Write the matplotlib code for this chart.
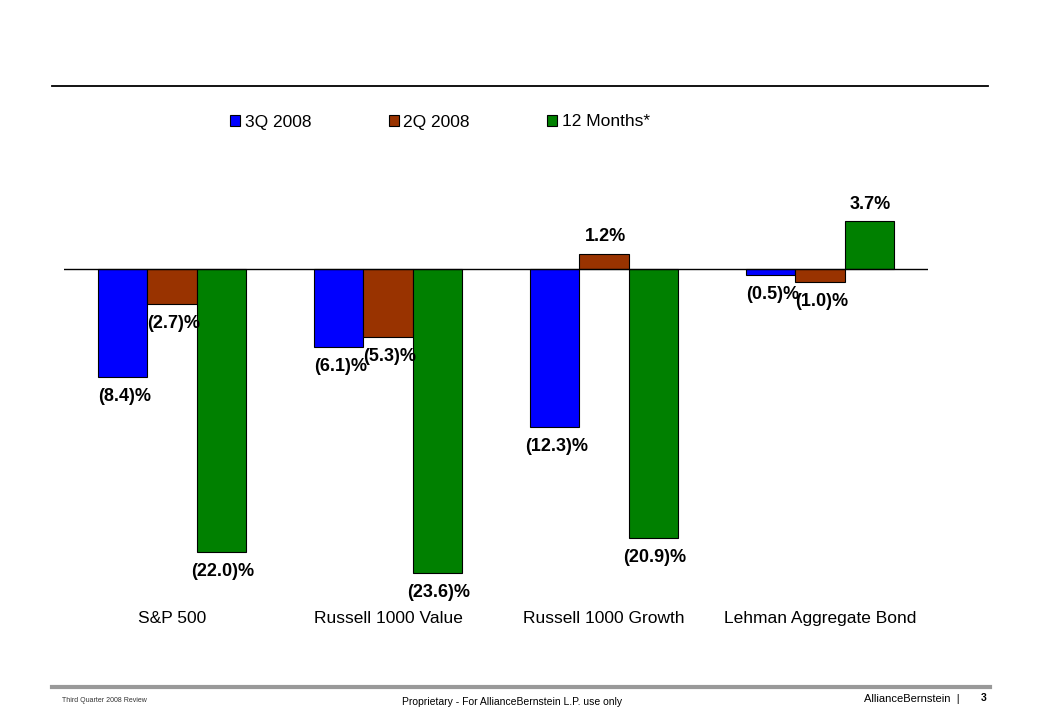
import matplotlib
matplotlib.use("Agg")
import matplotlib.pyplot as plt
from matplotlib.lines import Line2D
import numpy as np

# veriler
kategoriler = ["S&P 500", "Russell 1000 Value", "Russell 1000 Growth", "Lehman Aggregate Bond"]
seriler = ["3Q 2008", "2Q 2008", "12 Months*"]
q3_2008 = [-8.4, -6.1, -12.3, -0.5]
q2_2008 = [-2.7, -5.3, 1.2, -1.0]
oniki_ay = [-22.0, -23.6, -20.9, 3.7]
renkler = ["#0000FF", "#993300", "#008000"]

plt.rcParams["font.family"] = ["Liberation Sans", "DejaVu Sans"]

W, H = 1039, 719
fig = plt.figure(figsize=(W / 100, H / 100), dpi=100)
fig.patch.set_facecolor("white")

# eksen konumu (piksel)
ax_left, ax_right = 64, 928
ax_top, ax_bot = 204.6, 603.6
ax = fig.add_axes([ax_left / W, 1 - ax_bot / H, (ax_right - ax_left) / W, (ax_bot - ax_top) / H])
ax.set_xlim(-0.5, 3.5)
ax.set_ylim(-26, 5)

x = np.arange(len(kategoriler))
bw = 0.227
degerler = [q3_2008, q2_2008, oniki_ay]
handles = []
for i, (vals, renk, ad) in enumerate(zip(degerler, renkler, seriler)):
    pos = x + (i - 1) * bw
    bars = ax.bar(pos, vals, width=bw, color=renk, edgecolor="black", linewidth=0.8, label=ad, zorder=2)
    handles.append(bars)
    for px, v in zip(pos, vals):
        etiket = f"{v:.1f}%" if v >= 0 else f"({abs(v):.1f})%"
        off = 12 if v >= 0 else -14
        ax.annotate(etiket, (px, v), xytext=(1, off), textcoords="offset points",
                    ha="center", va="center", fontsize=13, fontweight="bold", color="black")

ax.axhline(0, color="black", linewidth=1, zorder=3)
for s in ax.spines.values():
    s.set_visible(False)
ax.set_yticks([])
ax.set_xticks(x)
ax.set_xticklabels(kategoriler, fontsize=12.5)
ax.tick_params(axis="x", length=0, pad=5)

# legend
fig.legend(handles=handles, labels=seriler, loc="center left",
           bbox_to_anchor=(230 / W, 1 - 122 / H), ncol=3, frameon=False,
           fontsize=12.5, handlelength=0.6, handleheight=0.6, handletextpad=0.25,
           columnspacing=4.45, borderpad=0, borderaxespad=0)

# üst çizgi ve alt bilgi
fig.add_artist(Line2D([52 / W, 988 / W], [1 - 86 / H, 1 - 86 / H], color="black", linewidth=1.3))
fig.add_artist(Line2D([52 / W, 990 / W], [1 - 687 / H, 1 - 687 / H], color="#999999", linewidth=3))
fig.text(62 / W, 1 - 701 / H, "Third Quarter 2008 Review", fontsize=5, va="center", ha="left", color="#333333")
fig.text(512 / W, 1 - 702 / H, "Proprietary - For AllianceBernstein L.P. use only", fontsize=7.5,
         va="center", ha="center", color="black")
fig.text(960 / W, 1 - 699 / H, "AllianceBernstein  |", fontsize=8, va="center", ha="right", color="black")
fig.text(984 / W, 1 - 698 / H, "3", fontsize=7.5, va="center", ha="center", fontweight="bold", color="black")

fig.savefig("out.png", dpi=100, facecolor="white")
